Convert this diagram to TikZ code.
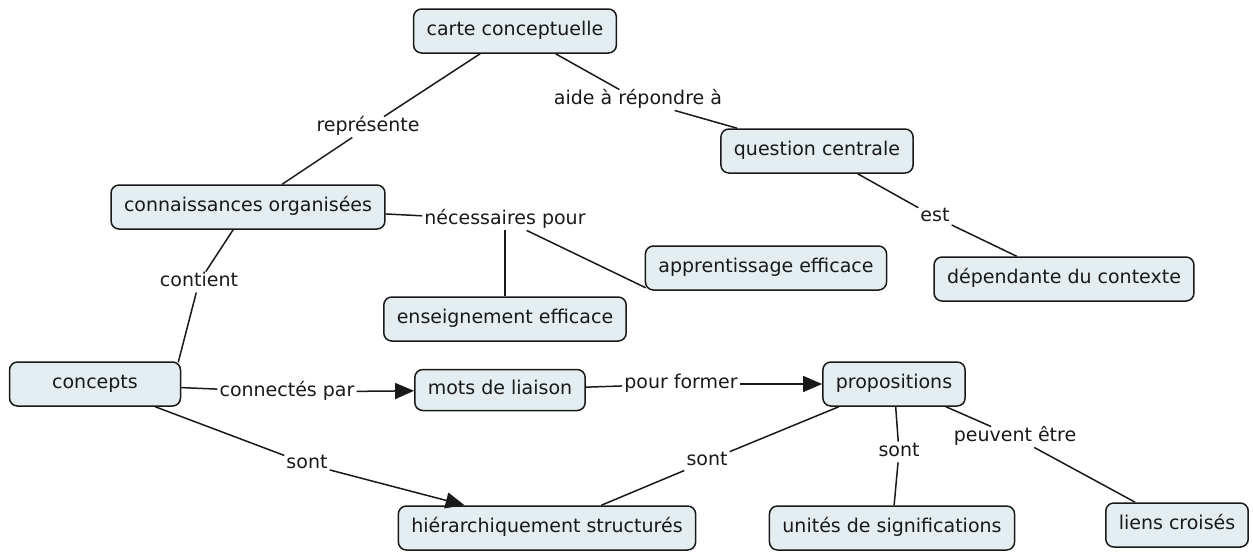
\documentclass[tikz,border=0pt]{standalone}
\usepackage{fontspec}
\setmainfont{DejaVu Sans}
\usetikzlibrary{arrows.meta,calc}
\definecolor{boxfill}{RGB}{228,238,241}
\definecolor{inkc}{RGB}{25,25,25}
\tikzset{
  cnode/.style={draw=inkc, line width=1.5pt, fill=boxfill, rounded corners=8pt,
    inner xsep=13pt, inner ysep=0pt, minimum height=44pt, text height=14pt, text depth=4.5pt,
    font=\fontsize{19}{22}\selectfont, text=inkc},
  lbl/.style={inner xsep=2pt, inner ysep=1pt, text height=14pt, text depth=4.5pt,
    font=\fontsize{19}{22}\selectfont, text=inkc},
  link/.style={draw=inkc, line width=1.5pt},
  arr/.style={link, -{Triangle[length=19pt,width=16pt]}}
}
\begin{document}
\begin{tikzpicture}[x=1pt,y=-1pt]
\useasboundingbox (0,0) rectangle (1253,552);
% concepts
\node[cnode] (carte) at (515,31) {carte conceptuelle};
\node[cnode] (quest) at (817,151) {question centrale};
\node[cnode] (conn) at (248,207) {connaissances organisées};
\node[cnode] (app) at (766,268) {apprentissage efficace};
\node[cnode] (dep) at (1064,279) {dépendante du contexte};
\node[cnode] (ens) at (505,319) {enseignement efficace};
\node[cnode, minimum width=171pt] (concepts) at (95,384) {concepts};
\node[cnode, minimum height=41pt] (mots) at (500,390) {mots de liaison};
\node[cnode] (prop) at (894,384) {propositions};
\node[cnode] (hier) at (547,528) {hiérarchiquement structurés};
\node[cnode] (unit) at (892,528) {unités de significations};
\node[cnode] (liens) at (1177,525) {liens croisés};
% linking phrases
\node[lbl] (repr) at (368,127) {représente};
\node[lbl] (aide) at (638,100) {aide à répondre à};
\node[lbl] (nec) at (505,220) {nécessaires pour};
\node[lbl] (cont) at (199,282) {contient};
\node[lbl] (est) at (935,217) {est};
\node[lbl] (conpar) at (287,392) {connectés par};
\node[lbl] (pform) at (681,384) {pour former};
\node[lbl] (sontA) at (307,464) {sont};
\node[lbl] (sontB) at (707,461) {sont};
\node[lbl] (sontC) at (899,452) {sont};
\node[lbl] (peuv) at (1015,437) {peuvent être};
% helper end points
\coordinate (appIn) at ($(app.south west)+(1,-3)$);
\coordinate (concIn) at ($(concepts.north east)+(-3,1)$);
\coordinate (hierIn) at ($(hier.north west)+(67,0)$);
% connectors
\draw[link] (carte) -- (repr);
\draw[link] (repr) -- (conn);
\draw[link] (carte) -- (aide);
\draw[link] (aide) -- (quest);
\draw[link] (quest) -- (est);
\draw[link] (est) -- (dep);
\draw[link] (conn) -- (nec);
\draw[link] (nec) -- (ens);
\draw[link] (nec) -- (appIn);
\draw[link] (conn) -- (cont);
\draw[link] (cont) -- (concIn);
\draw[link] (concepts) -- (conpar);
\draw[arr] (conpar) -- (mots);
\draw[link] (mots) -- (pform);
\draw[arr] (pform) -- (prop);
\draw[link] (concepts) -- (sontA);
\draw[arr] (sontA) -- (hierIn);
\draw[link] (prop) -- (sontB);
\draw[link] (sontB) -- (hier);
\draw[link] (prop) -- (sontC);
\draw[link] (sontC) -- (unit);
\draw[link] (prop) -- (peuv);
\draw[link] (peuv) -- (liens);
\end{tikzpicture}
\end{document}
